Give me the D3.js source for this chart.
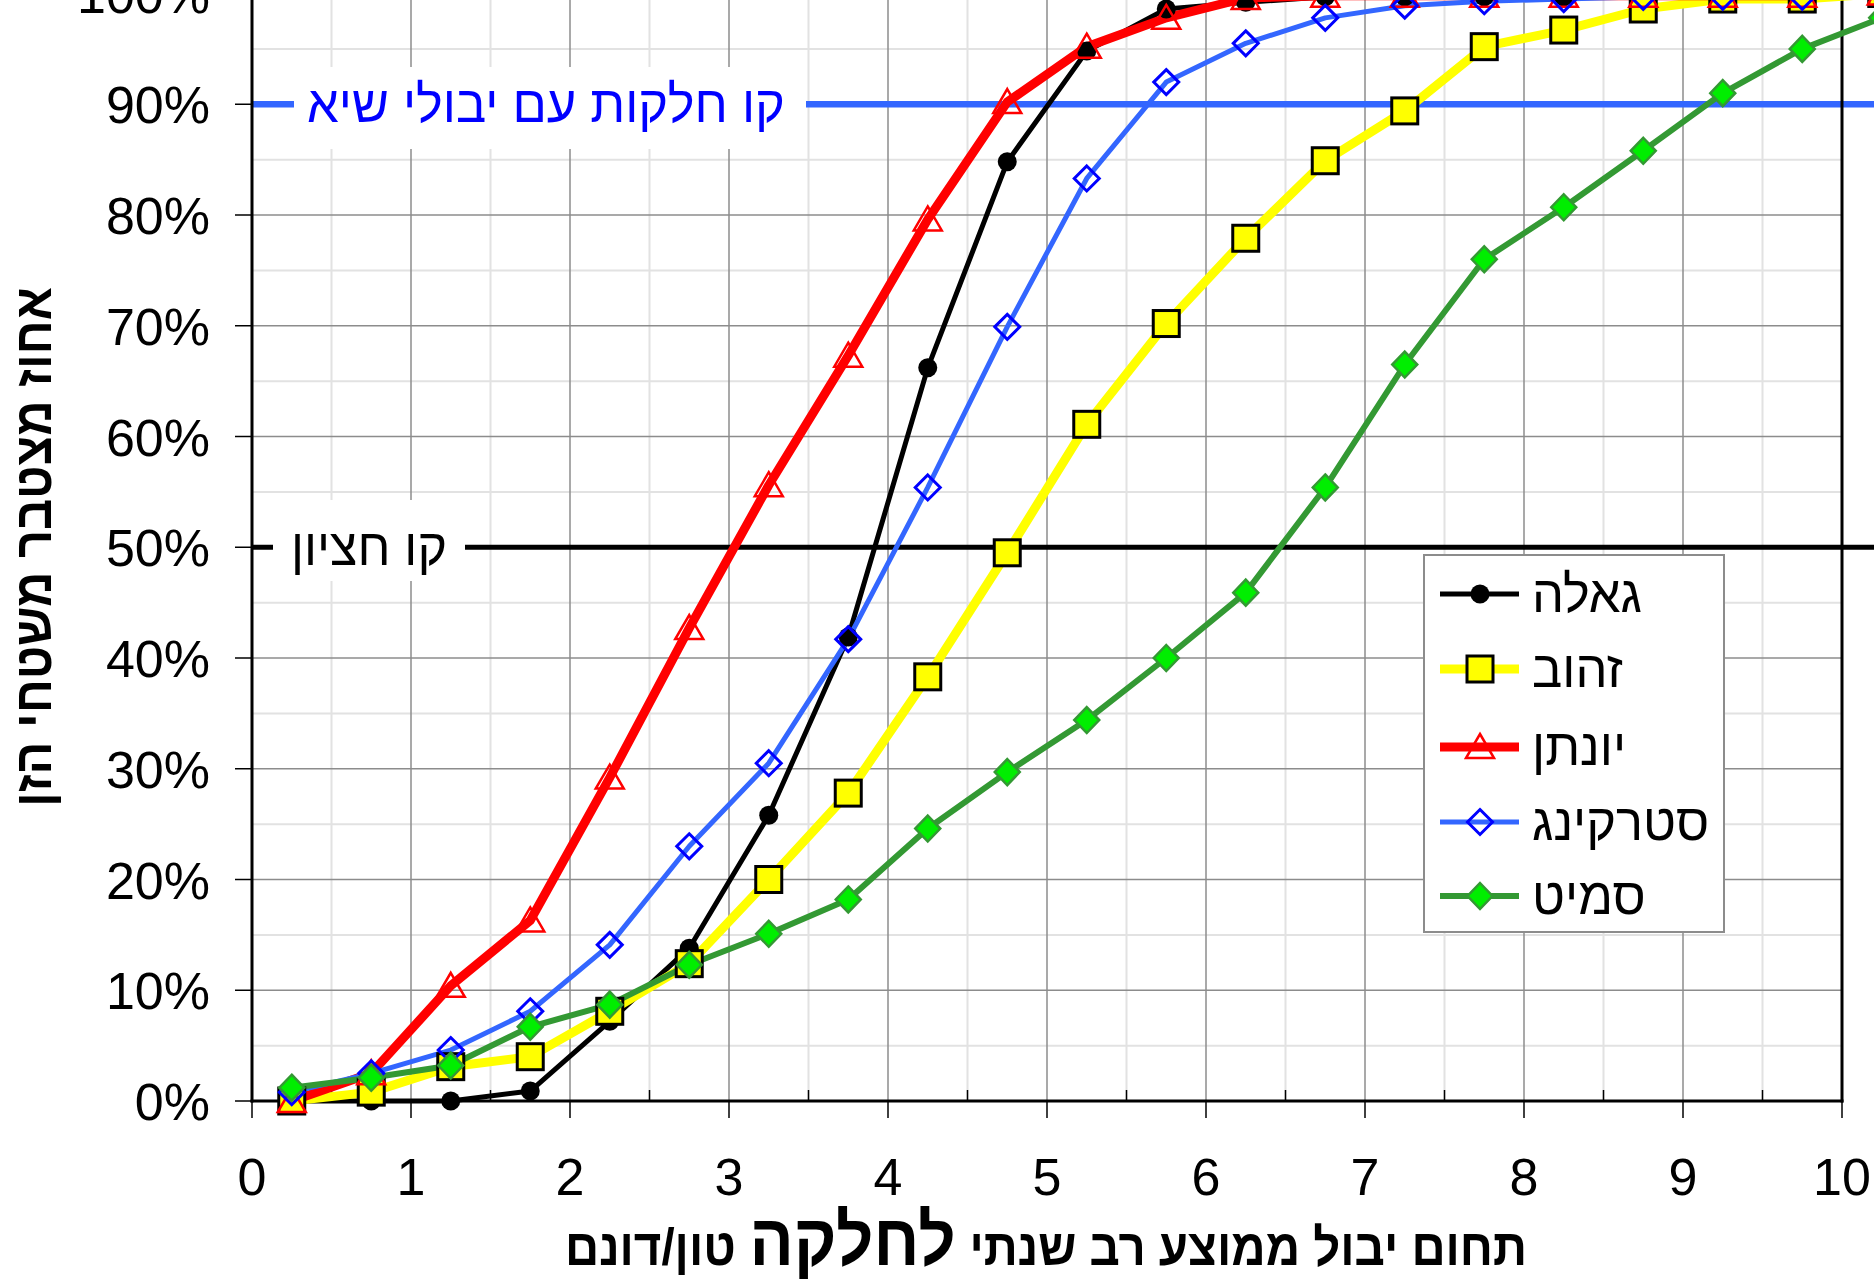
<!DOCTYPE html>
<html><head><meta charset="utf-8">
<script src="https://cdn.jsdelivr.net/npm/d3@7"></script>
<style>body{margin:0;background:#fff}svg{display:block}</style>
</head><body><svg id="c" width="1874" height="1282"></svg>
<script>
// ---------- DATA ----------
const xCats = [0.25,0.75,1.25,1.75,2.25,2.75,3.25,3.75,4.25,4.75,5.25,5.75,6.25,6.75,7.25,7.75,8.25,8.75,9.25,9.75,10.25];
const seriesNames = ["גאלה","זהוב","יונתן","סטרקינג","סמיט"];
const galla    = [0,0,0,0.9,7.2,13.8,25.8,41.9,66.2,84.8,94.8,98.6,99.2,99.7,99.7,99.7,99.7,99.8,99.8,99.8,100];
const zahav    = [0,0.8,3.1,4.0,8.1,12.4,20.0,27.8,38.3,49.5,61.1,70.2,77.9,84.9,89.4,95.2,96.7,98.6,99.5,99.5,100];
const yonatan  = [0,2.5,10.4,16.3,29.2,42.7,55.6,67.3,79.6,90.2,95.2,97.8,99.6,99.8,99.8,99.8,99.8,99.8,99.8,99.8,100];
const sterking = [0.8,2.5,4.6,8.1,14.1,23.0,30.5,41.7,55.4,69.9,83.3,92.0,95.5,97.8,98.9,99.3,99.5,99.7,99.7,99.7,100];
const smit     = [1.2,2.1,3.2,6.7,8.7,12.3,15.1,18.2,24.6,29.7,34.4,40.0,45.9,55.4,66.5,76.0,80.7,85.8,91.0,95.0,97.8];
const yTicks = [0,10,20,30,40,50,60,70,80,90,100];
const yMinor = [5,15,25,35,45,55,65,75,85,95];
const xTicks = [0,1,2,3,4,5,6,7,8,9,10];
const xMinor = [0.5,1.5,2.5,3.5,4.5,5.5,6.5,7.5,8.5,9.5];
const refHigh = 90, refHighLabel = "קו חלקות עם יבולי שיא";
const refMed = 50, refMedLabel = "קו חציון";
const yTitle = "אחוז מצטבר משטחי הזן";
const xTitleParts = ["תחום יבול ממוצע רב שנתי", "לחלקה", "טון/דונם"];

// ---------- STYLE ----------
const FONT = "'Liberation Sans', Arial, 'DejaVu Sans', sans-serif";
const styles = [
  {color:"#000000", width:5, marker:"circle"},
  {color:"#FFFF00", width:9, marker:"square"},
  {color:"#FF0000", width:9, marker:"triangle"},
  {color:"#3366FF", width:5, marker:"diamondOpen"},
  {color:"#339933", width:6, marker:"diamondGreen"}
];
const seriesData = [galla, zahav, yonatan, sterking, smit];

const svg = d3.select("#c");
const x = d3.scaleLinear().domain([0,10]).range([252,1842]);
const y = d3.scaleLinear().domain([0,100]).range([1101,-6.5]);

// gridlines
const grid = svg.append("g");
grid.selectAll(".ym").data(yMinor).join("line")
  .attr("x1",x(0)).attr("x2",x(10)).attr("y1",d=>y(d)).attr("y2",d=>y(d))
  .attr("stroke","#e2e2e2").attr("stroke-width",2);
grid.selectAll(".xm").data(xMinor).join("line")
  .attr("y1",y(0)).attr("y2",y(100)).attr("x1",d=>x(d)).attr("x2",d=>x(d))
  .attr("stroke","#e2e2e2").attr("stroke-width",2);
grid.selectAll(".yM").data(yTicks.slice(1)).join("line")
  .attr("x1",x(0)).attr("x2",x(10)).attr("y1",d=>y(d)).attr("y2",d=>y(d))
  .attr("stroke","#8c8c8c").attr("stroke-width",1.5);
grid.selectAll(".xM").data(xTicks.slice(1,-1)).join("line")
  .attr("y1",y(0)).attr("y2",y(100)).attr("x1",d=>x(d)).attr("x2",d=>x(d))
  .attr("stroke","#8c8c8c").attr("stroke-width",1.5);

// reference lines
svg.append("line").attr("x1",x(0)).attr("x2",1874).attr("y1",y(refHigh)).attr("y2",y(refHigh))
  .attr("stroke","#3366FF").attr("stroke-width",6.5);
svg.append("line").attr("x1",x(0)).attr("x2",1874).attr("y1",y(refMed)).attr("y2",y(refMed))
  .attr("stroke","#000").attr("stroke-width",5);

// label boxes
svg.append("rect").attr("x",294).attr("y",67).attr("width",512).attr("height",82).attr("fill","#fff");
svg.append("rect").attr("x",273).attr("y",500).attr("width",192).attr("height",81).attr("fill","#fff");

function fitStart(gx, gy, str, target, size, color, weight){
  const g = svg.append("g").attr("transform",`translate(${gx},${gy})`);
  const t = g.append("text").attr("x",0).attr("y",0).attr("font-family",FONT)
    .attr("font-size",size).attr("font-weight",weight||"normal").attr("fill",color).text(str);
  const w = t.node().getComputedTextLength();
  t.attr("transform",`scale(${target/w},1)`);
  return t;
}
fitStart(307, y(refHigh)+18, refHighLabel, 478, 52, "#0000FF");
fitStart(291, y(refMed)+18, refMedLabel, 156, 52, "#000");

// axes
const axes = svg.append("g");
axes.append("line").attr("x1",x(0)).attr("x2",x(0)).attr("y1",-10).attr("y2",y(0)+1.5).attr("stroke","#000").attr("stroke-width",3);
axes.append("line").attr("x1",x(10)).attr("x2",x(10)).attr("y1",-10).attr("y2",y(0)+1.5).attr("stroke","#000").attr("stroke-width",3);
axes.append("line").attr("x1",x(0)-1.5).attr("x2",x(10)+1.5).attr("y1",y(0)).attr("y2",y(0)).attr("stroke","#000").attr("stroke-width",3);
axes.selectAll(".yt").data(yTicks).join("line")
  .attr("x1",235).attr("x2",x(0)).attr("y1",d=>y(d)).attr("y2",d=>y(d)).attr("stroke","#000").attr("stroke-width",1.5);
axes.selectAll(".xt").data(xTicks).join("line")
  .attr("x1",d=>x(d)).attr("x2",d=>x(d)).attr("y1",y(0)).attr("y2",y(0)+17).attr("stroke","#000").attr("stroke-width",1.5);
axes.selectAll(".xmt").data(xMinor).join("line")
  .attr("x1",d=>x(d)).attr("x2",d=>x(d)).attr("y1",y(0)).attr("y2",y(0)-11).attr("stroke","#000").attr("stroke-width",1.5);
axes.selectAll(".yl").data(yTicks).join("text")
  .attr("x",210).attr("y",d=>y(d)+19).attr("text-anchor","end")
  .attr("font-family",FONT).attr("font-size",52).attr("fill","#000").text(d=>d+"%");
axes.selectAll(".xl").data(xTicks).join("text")
  .attr("x",d=>x(d)).attr("y",1195).attr("text-anchor","middle")
  .attr("font-family",FONT).attr("font-size",52).attr("fill","#000").text(d=>d);

// y title
{
  const g = svg.append("g").attr("transform","translate(51,547) rotate(-90)");
  const t = g.append("text").attr("text-anchor","middle").attr("font-family",FONT)
    .attr("font-size",52).attr("font-weight","bold").attr("fill","#000").text(yTitle);
  const w = t.node().getComputedTextLength();
  t.attr("transform",`scale(${520/w},1)`);
}
// x title
{
  const g = svg.append("g").attr("transform","translate(1527,1265)");
  const sizes = [52,72,52];
  const nodes = xTitleParts.map((s,i)=>g.append("text").attr("text-anchor","end")
     .attr("font-family",FONT).attr("font-size",sizes[i]).attr("font-weight","bold").attr("fill","#000").text(s));
  const ws = nodes.map(n=>n.node().getComputedTextLength());
  const gap = 15;
  let pos = 0;
  nodes.forEach((n,i)=>{ n.attr("x",-pos); pos += ws[i] + gap; });
  const total = pos - gap;
  g.attr("transform",`translate(1527,1265) scale(${962/total},1)`);
}

// markers
function drawMarker(sel, kind){
  if(kind==="circle"){
    sel.append("circle").attr("r",9.5).attr("fill","#000");
  } else if(kind==="square"){
    sel.append("rect").attr("x",-13).attr("y",-13).attr("width",26).attr("height",26)
      .attr("fill","#FFFF00").attr("stroke","#000").attr("stroke-width",3);
  } else if(kind==="triangle"){
    sel.append("path").attr("d","M0,-13L14,11L-14,11Z").attr("fill","none")
      .attr("stroke","#FF0000").attr("stroke-width",2.5);
  } else if(kind==="diamondOpen"){
    sel.append("path").attr("d","M0,-12.5L12.5,0L0,12.5L-12.5,0Z").attr("fill","none")
      .attr("stroke","#0000FF").attr("stroke-width",3);
  } else if(kind==="diamondGreen"){
    sel.append("path").attr("d","M0,-13L12.5,0L0,13L-12.5,0Z").attr("fill","#00EE00")
      .attr("stroke","#339933").attr("stroke-width",2.5);
  }
}

const line = d3.line().x((d,i)=>x(xCats[i])).y(d=>y(d));
const plot = svg.append("g");
seriesData.forEach((vals,si)=>{
  plot.append("path").attr("d",line(vals)).attr("fill","none")
    .attr("stroke",styles[si].color).attr("stroke-width",styles[si].width).attr("stroke-linejoin","round");
});
seriesData.forEach((vals,si)=>{
  vals.forEach((v,i)=>{
    const m = plot.append("g").attr("transform",`translate(${x(xCats[i])},${y(v)})`);
    drawMarker(m, styles[si].marker);
  });
});

// legend
const leg = svg.append("g");
leg.append("rect").attr("x",1424).attr("y",555).attr("width",300).attr("height",377)
  .attr("fill","#fff").attr("stroke","#8c8c8c").attr("stroke-width",2);
const legY = [594,669,747,822,896];
let legScale = null;
seriesNames.forEach((name,i)=>{
  leg.append("line").attr("x1",1440).attr("x2",1519).attr("y1",legY[i]).attr("y2",legY[i])
    .attr("stroke",styles[i].color).attr("stroke-width",styles[i].width);
  drawMarker(leg.append("g").attr("transform",`translate(1480,${legY[i]})`), styles[i].marker);
  const g = leg.append("g").attr("transform",`translate(1532,${legY[i]+18})`);
  const t = g.append("text").attr("font-family",FONT).attr("font-size",52).attr("fill","#000").text(name);
  if(legScale===null){ legScale = 110 / t.node().getComputedTextLength(); }
  t.attr("transform",`scale(${legScale},1)`);
});
</script></body></html>
